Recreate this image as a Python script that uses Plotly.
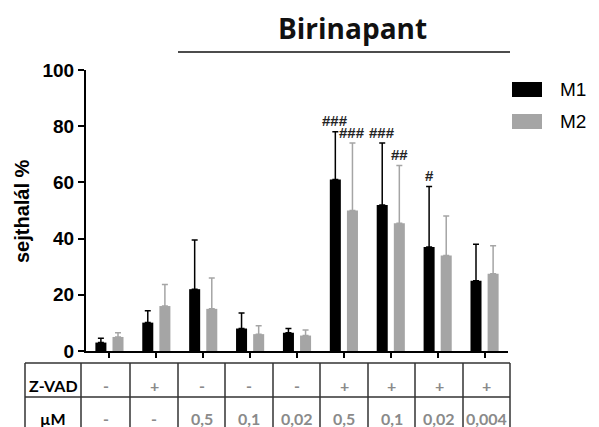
import plotly.graph_objects as go

# Cell death (%) per condition, mean and upper SD
groups = list(range(9))
m1_mean = [3.0, 10.1, 22.0, 8.0, 6.5, 61.0, 52.0, 37.0, 25.0]
m1_sd = [1.5, 4.2, 17.5, 5.5, 1.5, 17.0, 22.0, 21.5, 13.0]
m2_mean = [5.0, 16.0, 15.0, 6.0, 5.5, 50.0, 45.5, 34.0, 27.5]
m2_sd = [1.5, 7.7, 11.0, 3.0, 2.0, 24.0, 20.5, 14.0, 10.0]

series_names = ["M1", "M2"]
series_colors = ["#000000", "#a5a5a5"]

# Significance marks: (group, series index, label)
sig_marks = [(5, 0, "###"), (5, 1, "###"), (6, 0, "###"), (6, 1, "##"), (7, 0, "#")]

# Treatment table below the axis
row_headers = ["Z-VAD", "µM"]
zvad_row = ["-", "+", "-", "-", "-", "+", "+", "+", "+"]
dose_row = ["-", "-", "0,5", "0,1", "0,02", "0,5", "0,1", "0,02", "0,004"]

title_text = "Birinapant"
y_title = "sejthalál %"
y_ticks = [0, 20, 40, 60, 80, 100]

BAR_W = 0.235
OFFSETS = [-0.30, 0.065]

fig = go.Figure()
for name, color, mean, sd, off in zip(series_names, series_colors,
                                      [m1_mean, m2_mean], [m1_sd, m2_sd], OFFSETS):
    fig.add_trace(go.Bar(
        x=groups, y=mean, name=name, width=BAR_W, offset=off,
        marker=dict(color=color, line=dict(width=0)),
        error_y=dict(type="data", array=sd, arrayminus=[0] * len(sd),
                     symmetric=False, color=color, thickness=1.5, width=3),
        showlegend=False,
    ))

# Plot area geometry in pixels (for paper-coordinate conversion)
W, H = 599, 427
L, R, T, B = 86, 508, 70, 351


def px(xpix):
    return (xpix - L) / (R - L)


def py(ypix):
    return (B - ypix) / (B - T)


annotations = []
shapes = []

# Significance labels above the error bars
all_means = [m1_mean, m2_mean]
all_sds = [m1_sd, m2_sd]
for g, s, lab in sig_marks:
    xc = g + OFFSETS[s] + BAR_W / 2
    annotations.append(dict(
        x=xc, y=all_means[s][g] + all_sds[s][g], xref="x", yref="y",
        text=lab, showarrow=False, yanchor="middle", yshift=11,
        font=dict(family="Liberation Sans", size=15, color="#222222", weight="bold"),
    ))

# Title with underline
annotations.append(dict(
    x=px(352), y=py(28), xref="paper", yref="paper", text=title_text,
    showarrow=False, xanchor="center", yanchor="middle",
    font=dict(family="Open Sans", size=28, color="#111111", weight="bold"),
))
shapes.append(dict(type="line", xref="paper", yref="paper",
                   x0=px(178), x1=px(510), y0=py(52), y1=py(52),
                   line=dict(color="#111111", width=1.5)))

# Y axis title
annotations.append(dict(
    x=px(22), y=py(211), xref="paper", yref="paper", text=y_title,
    showarrow=False, textangle=-90, xanchor="center", yanchor="middle",
    font=dict(family="Liberation Sans", size=20, color="#000000", weight="bold"),
))

# Legend (custom swatches)
leg_y = [89.5, 121.5]
for name, color, yy in zip(series_names, series_colors, leg_y):
    shapes.append(dict(type="rect", xref="paper", yref="paper",
                       x0=px(512), x1=px(542), y0=py(yy - 7.5), y1=py(yy + 7.5),
                       fillcolor=color, line=dict(width=0)))
    annotations.append(dict(
        x=px(558), y=py(yy), xref="paper", yref="paper", text=name,
        showarrow=False, xanchor="left", yanchor="middle",
        font=dict(family="Liberation Sans", size=19, color="#000000"),
    ))

# Treatment table
col_edges = [25, 81, 130, 178, 225, 273, 320, 368, 415, 463, 510]
row_top, row_mid, row_bot = 363, 397, 440
grid = dict(color="#333333", width=1.5)
for yy in (row_top, row_mid):
    shapes.append(dict(type="line", xref="paper", yref="paper",
                       x0=px(col_edges[0]), x1=px(col_edges[-1]),
                       y0=py(yy), y1=py(yy), line=grid))
for xx in col_edges:
    shapes.append(dict(type="line", xref="paper", yref="paper",
                       x0=px(xx), x1=px(xx), y0=py(row_top), y1=py(row_bot),
                       line=grid))

row_centers = [385, 418]
for hdr, yy in zip(row_headers, row_centers):
    annotations.append(dict(
        x=px((col_edges[0] + col_edges[1]) / 2), y=py(yy), xref="paper", yref="paper",
        text=hdr, showarrow=False, xanchor="center", yanchor="middle",
        font=dict(family="Lato", size=16, color="#000000", weight="bold"),
    ))
for row, yy in zip([zvad_row, dose_row], row_centers):
    for i, val in enumerate(row):
        annotations.append(dict(
            x=px((col_edges[i + 1] + col_edges[i + 2]) / 2), y=py(yy),
            xref="paper", yref="paper", text=val, showarrow=False,
            xanchor="center", yanchor="middle",
            font=dict(family="Lato", size=16, color="#8a8a8a", weight="bold"),
        ))

fig.update_layout(
    width=W, height=H,
    margin=dict(l=L, r=W - R, t=T, b=H - B, pad=0),
    paper_bgcolor="white", plot_bgcolor="white",
    barmode="overlay",
    xaxis=dict(range=[-0.5, 8.5], tickvals=groups, ticktext=[""] * 9,
               showline=True, linecolor="#000000", linewidth=2,
               ticks="outside", ticklen=5, tickwidth=2, tickcolor="#000000",
               showgrid=False, zeroline=False, fixedrange=True),
    yaxis=dict(range=[0, 100], tickvals=y_ticks,
               showline=True, linecolor="#000000", linewidth=2,
               ticks="outside", ticklen=6, tickwidth=2, tickcolor="#000000",
               tickfont=dict(family="Liberation Sans", size=19, color="#000000",
                             weight="bold"),
               showgrid=False, zeroline=False, fixedrange=True),
    annotations=annotations,
    shapes=shapes,
)

fig.write_html("out.html")
